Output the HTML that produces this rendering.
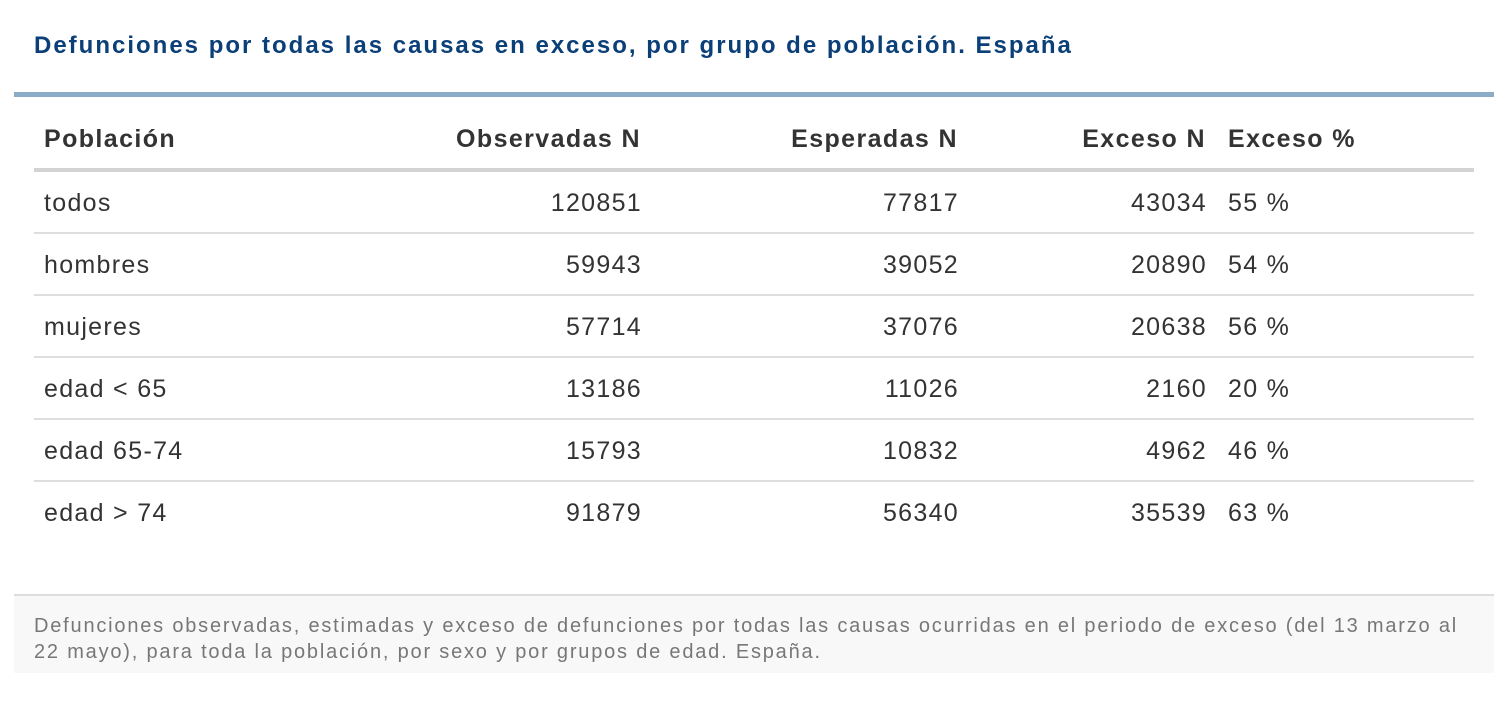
<!DOCTYPE html>
<html><head><meta charset="utf-8"><style>
body{margin:0;width:1502px;height:720px;background:#fff;font-family:"Liberation Sans",Arial,sans-serif;position:relative;overflow:hidden}
.a{position:absolute;white-space:nowrap}
.t{left:34px;top:32px;font-size:24px;letter-spacing:2px;font-weight:bold;color:#0b3f78}
.bar{position:absolute;left:14px;top:92px;width:1480px;height:5px;background:#8aacc8}
.h{font-size:25px;letter-spacing:1.4px;font-weight:bold;color:#333;top:125px}
.r{font-size:25px;letter-spacing:1.3px;color:#333}
.ln{position:absolute;left:34px;width:1440px;height:2px;background:#dedede}
.rt{text-align:right}
.foot{position:absolute;left:14px;top:594px;width:1480px;height:79px;background:#f8f8f8;border-top:2px solid #ddd;box-sizing:border-box}
.ft{left:34px;font-size:20px;letter-spacing:1.8px;color:#777;line-height:26px;top:613px;width:1440px;white-space:normal}
</style></head><body>
<div class="a t">Defunciones por todas las causas en exceso, por grupo de población. España</div>
<div class="bar"></div>
<div class="a h" style="left:44px">Población</div>
<div class="a h rt" style="right:861px">Observadas N</div>
<div class="a h rt" style="right:544px">Esperadas N</div>
<div class="a h rt" style="right:296px">Exceso N</div>
<div class="a h" style="left:1228px">Exceso %</div>
<div class="ln" style="top:168px;height:4px;background:#d3d3d3"></div>
<div id="rows"></div>
<script>
var d=[["todos","120851","77817","43034","55 %"],["hombres","59943","39052","20890","54 %"],["mujeres","57714","37076","20638","56 %"],["edad < 65","13186","11026","2160","20 %"],["edad 65-74","15793","10832","4962","46 %"],["edad > 74","91879","56340","35539","63 %"]];
var h="";d.forEach(function(r,i){var y=189+i*62;
h+='<div class="a r" style="left:44px;top:'+y+'px">'+r[0]+'</div>';
h+='<div class="a r rt" style="right:860px;top:'+y+'px">'+r[1]+'</div>';
h+='<div class="a r rt" style="right:543px;top:'+y+'px">'+r[2]+'</div>';
h+='<div class="a r rt" style="right:295px;top:'+y+'px">'+r[3]+'</div>';
h+='<div class="a r" style="left:1228px;top:'+y+'px">'+r[4]+'</div>';
if(i<5)h+='<div class="ln" style="top:'+(232+i*62)+'px"></div>';});
document.getElementById("rows").innerHTML=h;
</script>
<div class="foot"></div>
<div class="a ft">Defunciones observadas, estimadas y exceso de defunciones por todas las causas ocurridas en el periodo de exceso (del 13 marzo al 22 mayo), para toda la población, por sexo y por grupos de edad. España.</div>
</body></html>
